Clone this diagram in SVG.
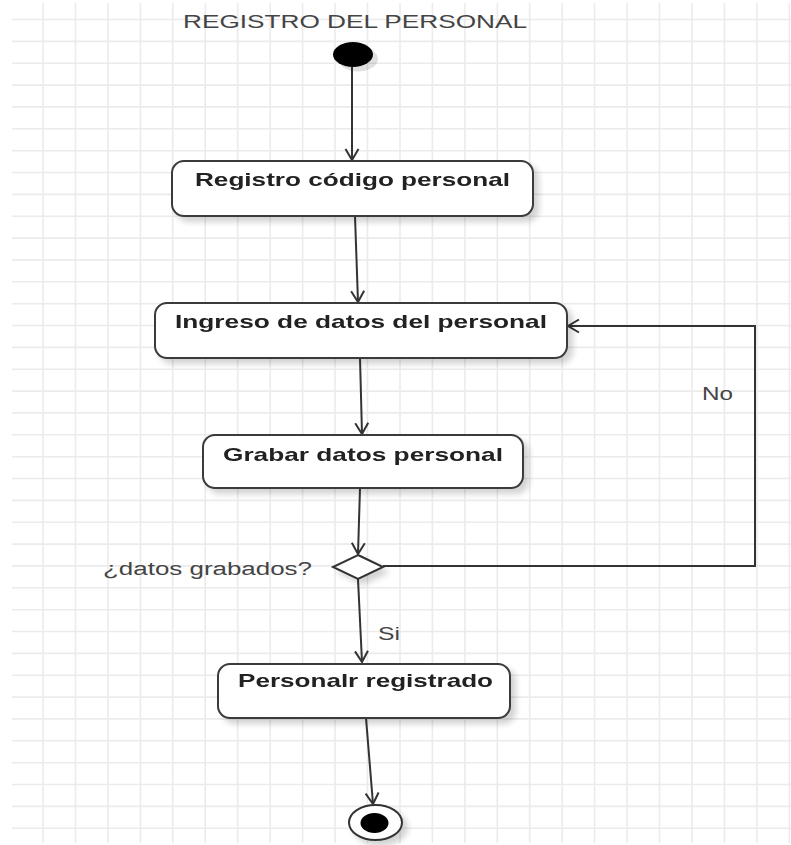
<svg xmlns="http://www.w3.org/2000/svg" width="791" height="845" viewBox="0 0 791 845">
  <style>
    .grid line { stroke: #ebebeb; stroke-width: 1.6; }
    .box { fill: #ffffff; stroke: #3a3a3a; stroke-width: 2; }
    .lbl { font-family: "Liberation Sans", Arial, sans-serif; font-size: 19px; font-weight: bold; fill: #222222; }
    .note { font-family: "Liberation Sans", Arial, sans-serif; font-size: 18px; fill: #444444; }
    .edge { fill: none; stroke: #333333; stroke-width: 2; }
  </style>
  <defs>
    <marker id="arrow" markerWidth="16" markerHeight="16" refX="13" refY="8" orient="auto" markerUnits="userSpaceOnUse">
      <path d="M2,1.5 L13,8 L2,14.5" fill="none" stroke="#333333" stroke-width="2"/>
    </marker>
    <filter id="shadow" x="-10%" y="-20%" width="130%" height="160%">
      <feGaussianBlur in="SourceAlpha" stdDeviation="3"/>
      <feOffset dx="5" dy="5" result="off"/>
      <feComponentTransfer><feFuncA type="linear" slope="0.18"/></feComponentTransfer>
      <feMerge><feMergeNode/><feMergeNode in="SourceGraphic"/></feMerge>
    </filter>
  </defs>

  <rect width="791" height="845" fill="#ffffff"/>

  <!-- background grid -->
  <g class="grid">
    <line x1="43" y1="3" x2="43" y2="843"/><line x1="75.5" y1="3" x2="75.5" y2="843"/>
    <line x1="108" y1="3" x2="108" y2="843"/><line x1="140.4" y1="3" x2="140.4" y2="843"/>
    <line x1="172.8" y1="3" x2="172.8" y2="843"/><line x1="205.3" y1="3" x2="205.3" y2="843"/>
    <line x1="237.7" y1="3" x2="237.7" y2="843"/><line x1="270.2" y1="3" x2="270.2" y2="843"/>
    <line x1="302.6" y1="3" x2="302.6" y2="843"/><line x1="335" y1="3" x2="335" y2="843"/>
    <line x1="367.5" y1="3" x2="367.5" y2="843"/><line x1="400" y1="3" x2="400" y2="843"/>
    <line x1="432.4" y1="3" x2="432.4" y2="843"/><line x1="464.9" y1="3" x2="464.9" y2="843"/>
    <line x1="497.3" y1="3" x2="497.3" y2="843"/><line x1="529.7" y1="3" x2="529.7" y2="843"/>
    <line x1="562.2" y1="3" x2="562.2" y2="843"/><line x1="594.6" y1="3" x2="594.6" y2="843"/>
    <line x1="627.1" y1="3" x2="627.1" y2="843"/><line x1="659.5" y1="3" x2="659.5" y2="843"/>
    <line x1="692" y1="3" x2="692" y2="843"/><line x1="724.4" y1="3" x2="724.4" y2="843"/>
    <line x1="756.9" y1="3" x2="756.9" y2="843"/><line x1="789.3" y1="3" x2="789.3" y2="843"/>

    <line x1="12" y1="19.5" x2="791" y2="19.5"/><line x1="12" y1="41.4" x2="791" y2="41.4"/>
    <line x1="12" y1="63.2" x2="791" y2="63.2"/><line x1="12" y1="85.1" x2="791" y2="85.1"/>
    <line x1="12" y1="106.9" x2="791" y2="106.9"/><line x1="12" y1="128.8" x2="791" y2="128.8"/>
    <line x1="12" y1="150.7" x2="791" y2="150.7"/><line x1="12" y1="172.5" x2="791" y2="172.5"/>
    <line x1="12" y1="194.4" x2="791" y2="194.4"/><line x1="12" y1="216.2" x2="791" y2="216.2"/>
    <line x1="12" y1="238.1" x2="791" y2="238.1"/><line x1="12" y1="259.9" x2="791" y2="259.9"/>
    <line x1="12" y1="281.8" x2="791" y2="281.8"/><line x1="12" y1="303.7" x2="791" y2="303.7"/>
    <line x1="12" y1="325.5" x2="791" y2="325.5"/><line x1="12" y1="347.4" x2="791" y2="347.4"/>
    <line x1="12" y1="369.2" x2="791" y2="369.2"/><line x1="12" y1="391.1" x2="791" y2="391.1"/>
    <line x1="12" y1="412.9" x2="791" y2="412.9"/><line x1="12" y1="434.8" x2="791" y2="434.8"/>
    <line x1="12" y1="456.7" x2="791" y2="456.7"/><line x1="12" y1="478.5" x2="791" y2="478.5"/>
    <line x1="12" y1="500.4" x2="791" y2="500.4"/><line x1="12" y1="522.2" x2="791" y2="522.2"/>
    <line x1="12" y1="544.1" x2="791" y2="544.1"/><line x1="12" y1="565.9" x2="791" y2="565.9"/>
    <line x1="12" y1="587.8" x2="791" y2="587.8"/><line x1="12" y1="609.7" x2="791" y2="609.7"/>
    <line x1="12" y1="631.5" x2="791" y2="631.5"/><line x1="12" y1="653.4" x2="791" y2="653.4"/>
    <line x1="12" y1="675.2" x2="791" y2="675.2"/><line x1="12" y1="697.1" x2="791" y2="697.1"/>
    <line x1="12" y1="718.9" x2="791" y2="718.9"/><line x1="12" y1="740.8" x2="791" y2="740.8"/>
    <line x1="12" y1="762.7" x2="791" y2="762.7"/><line x1="12" y1="784.5" x2="791" y2="784.5"/>
    <line x1="12" y1="806.4" x2="791" y2="806.4"/><line x1="12" y1="828.2" x2="791" y2="828.2"/>
  </g>

  <text class="note" x="183" y="28" textLength="344" lengthAdjust="spacingAndGlyphs" fill="#3a3a3a">REGISTRO DEL PERSONAL</text>

  <!-- connectors -->
  <g id="connectors">
    <line class="edge" x1="352" y1="67" x2="352" y2="160" marker-end="url(#arrow)"/>
    <line class="edge" x1="355" y1="216" x2="358" y2="302" marker-end="url(#arrow)"/>
    <line class="edge" x1="360" y1="358" x2="362" y2="434" marker-end="url(#arrow)"/>
    <line class="edge" x1="360" y1="488" x2="358" y2="554" marker-end="url(#arrow)"/>
    <line class="edge" x1="358" y1="579" x2="362" y2="662" marker-end="url(#arrow)"/>
    <line class="edge" x1="366" y1="718" x2="373" y2="804" marker-end="url(#arrow)"/>
    <polyline class="edge" points="383,566 755,566 755,326 568,326" marker-end="url(#arrow)"/>
    <text class="note" x="702" y="400" textLength="31" lengthAdjust="spacingAndGlyphs">No</text>
    <text class="note" x="378" y="640" textLength="22" lengthAdjust="spacingAndGlyphs">Si</text>
  </g>

  <g id="start">
    <ellipse cx="358" cy="59" rx="20" ry="12.5" fill="#000" opacity="0.12"/>
    <ellipse cx="353" cy="54.5" rx="20" ry="12.5" fill="#000000"/>
  </g>

  <g id="registro-codigo" filter="url(#shadow)">
    <rect class="box" x="172" y="161" width="361" height="55" rx="12"/>
    <text class="lbl" x="195" y="186" textLength="315" lengthAdjust="spacingAndGlyphs">Registro código personal</text>
  </g>

  <g id="ingreso-datos" filter="url(#shadow)">
    <rect class="box" x="155" y="303" width="412" height="55" rx="12"/>
    <text class="lbl" x="175" y="328" textLength="372" lengthAdjust="spacingAndGlyphs">Ingreso de datos del personal</text>
  </g>

  <g id="grabar-datos" filter="url(#shadow)">
    <rect class="box" x="203" y="435" width="320" height="53" rx="12"/>
    <text class="lbl" x="223" y="461" textLength="280" lengthAdjust="spacingAndGlyphs">Grabar datos personal</text>
  </g>

  <g id="decision">
    <polygon points="358,555 383,567 358,579 333,567" fill="#ffffff" stroke="#333333" stroke-width="2" filter="url(#shadow)"/>
    <text class="note" x="103" y="575" textLength="209" lengthAdjust="spacingAndGlyphs">¿datos grabados?</text>
  </g>

  <g id="personal-registrado" filter="url(#shadow)">
    <rect class="box" x="218" y="664" width="292" height="54" rx="12"/>
    <text class="lbl" x="238" y="687" textLength="255" lengthAdjust="spacingAndGlyphs">Personalr registrado</text>
  </g>

  <g id="end" filter="url(#shadow)">
    <ellipse cx="375.5" cy="822.5" rx="26.5" ry="17.5" fill="#ffffff" stroke="#333333" stroke-width="2"/>
    <ellipse cx="374.5" cy="823" rx="14" ry="10" fill="#000000"/>
  </g>
</svg>
